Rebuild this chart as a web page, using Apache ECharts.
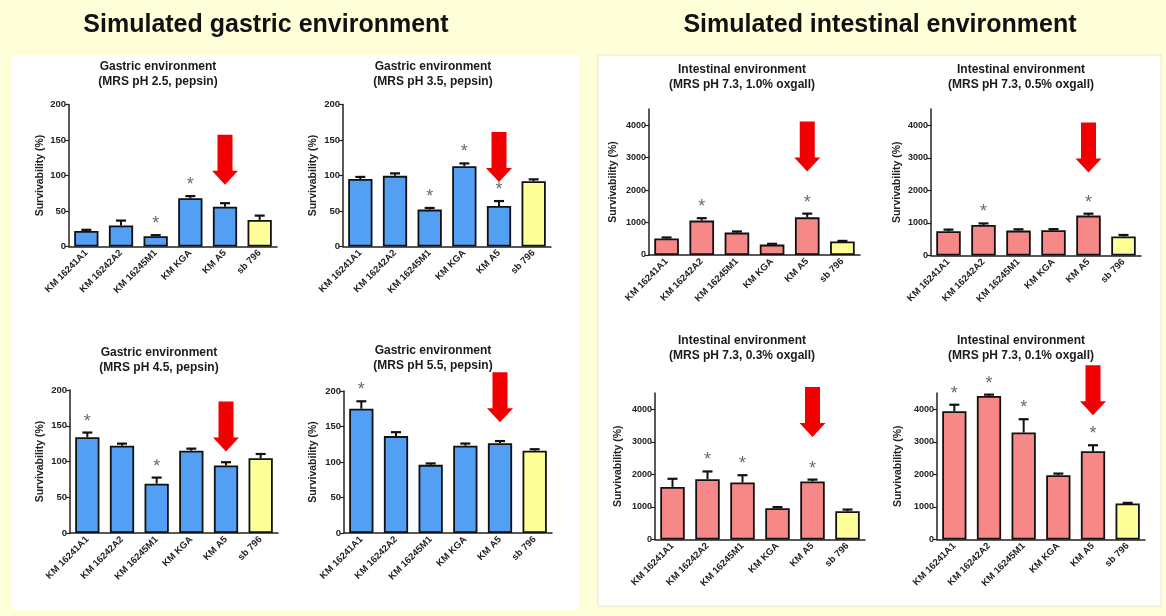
<!DOCTYPE html>
<html>
<head>
<meta charset="utf-8">
<script src="https://cdn.jsdelivr.net/npm/echarts@6/dist/echarts.min.js"></script>
<style>
html,body{margin:0;padding:0;background:#fefed9;}
#c{width:1166px;height:616px;}
</style>
</head>
<body>
<div id="c"></div>
<script>
// ---------- data ----------
const categories = ['KM 16241A1', 'KM 16242A2', 'KM 16245M1', 'KM KGA', 'KM A5', 'sb 796'];
const gastricTicks = [0, 50, 100, 150, 200];
const intestinalTicks = [0, 1000, 2000, 3000, 4000];

const pH25Mean = [22, 29.5, 14.5, 68, 56, 37.5];
const pH25Sem = [1.5, 7, 1.5, 3, 5, 6];
const pH25Stars = [2, 3];

const pH35Mean = [95, 99.5, 52, 113, 57, 92];
const pH35Sem = [3, 3.5, 2.3, 4, 7, 2.6];
const pH35Stars = [2, 3, 4];

const pH45Mean = [134, 122, 69, 115, 94.5, 104.5];
const pH45Sem = [6.5, 3, 8.5, 3, 4.5, 6];
const pH45Stars = [0, 2];

const pH55Mean = [175, 136.5, 96, 123, 126.5, 116];
const pH55Sem = [10.5, 5.5, 2, 3, 3, 2];
const pH55Stars = [0];

const oxgall10Mean = [510, 1060, 690, 320, 1160, 415];
const oxgall10Sem = [30, 75, 35, 25, 115, 20];
const oxgall10Stars = [1, 4];

const oxgall05Mean = [745, 940, 765, 775, 1225, 585];
const oxgall05Sem = [50, 45, 40, 35, 60, 45];
const oxgall05Stars = [1, 4];

const oxgall03Mean = [1615, 1850, 1750, 960, 1780, 870];
const oxgall03Sem = [250, 240, 225, 35, 60, 50];
const oxgall03Stars = [1, 2, 4];

const oxgall01Mean = [3940, 4410, 3285, 1975, 2710, 1105];
const oxgall01Sem = [200, 40, 410, 50, 185, 20];
const oxgall01Stars = [0, 1, 2, 4];

// arrow tip value (points at KM A5)
const arrowCategory = 4;
const arrowTips = [87, 91, 114, 156, 2570, 2550, 3150, 3816];

// ---------- layout ----------
const FONT = '"Liberation Sans", Arial, sans-serif';
const BLUE = '#539ff4', PINK = '#f78888', YELLOW = '#ffff99';

const panels = [
  {title: 'Gastric environment\n(MRS pH 2.5, pepsin)', mean: pH25Mean, sem: pH25Sem, stars: pH25Stars, kind: 'g',
   grid: {left: 69, top: 104.5, width: 208, height: 142}, tx: 158, ty: 74, gap: 23},
  {title: 'Gastric environment\n(MRS pH 3.5, pepsin)', mean: pH35Mean, sem: pH35Sem, stars: pH35Stars, kind: 'g',
   grid: {left: 343, top: 104.5, width: 208, height: 142}, tx: 433, ty: 74, gap: 24},
  {title: 'Gastric environment\n(MRS pH 4.5, pepsin)', mean: pH45Mean, sem: pH45Sem, stars: pH45Stars, kind: 'g',
   grid: {left: 70, top: 390, width: 208, height: 143}, tx: 159, ty: 360.5, gap: 24},
  {title: 'Gastric environment\n(MRS pH 5.5, pepsin)', mean: pH55Mean, sem: pH55Sem, stars: pH55Stars, kind: 'g',
   grid: {left: 344, top: 391, width: 208, height: 142}, tx: 433, ty: 358.5, gap: 25},
  {title: 'Intestinal environment\n(MRS pH 7.3, 1.0% oxgall)', mean: oxgall10Mean, sem: oxgall10Sem, stars: oxgall10Stars, kind: 'i',
   grid: {left: 649, top: 109, width: 211, height: 146}, tx: 742, ty: 77, gap: 30},
  {title: 'Intestinal environment\n(MRS pH 7.3, 0.5% oxgall)', mean: oxgall05Mean, sem: oxgall05Sem, stars: oxgall05Stars, kind: 'i',
   grid: {left: 931, top: 109, width: 210, height: 146.5}, tx: 1021, ty: 77, gap: 28},
  {title: 'Intestinal environment\n(MRS pH 7.3, 0.3% oxgall)', mean: oxgall03Mean, sem: oxgall03Sem, stars: oxgall03Stars, kind: 'i',
   grid: {left: 655, top: 393, width: 210, height: 146.5}, tx: 742, ty: 348, gap: 31},
  {title: 'Intestinal environment\n(MRS pH 7.3, 0.1% oxgall)', mean: oxgall01Mean, sem: oxgall01Sem, stars: oxgall01Stars, kind: 'i',
   grid: {left: 937, top: 393, width: 208, height: 146.5}, tx: 1021, ty: 348, gap: 33}
];

const ARROW = 'path://M5.5,0 L20.5,0 L20.5,36 L26,36 L13,50 L0,36 L5.5,36 Z';

const grids = [], xAxes = [], yAxes = [], series = [];
const graphics = [
  {type: 'rect', shape: {x: 12, y: 55, width: 567, height: 555}, style: {fill: '#ffffff'}, z: -10},
  {type: 'rect', shape: {x: 598, y: 55, width: 563, height: 551}, style: {fill: '#ffffff', stroke: '#e6e6d0', lineWidth: 1}, z: -10},
  {type: 'text', x: 266, y: 25, style: {text: 'Simulated gastric environment', font: 'bold 25px ' + FONT, fill: '#111',
    align: 'center', verticalAlign: 'middle', textAlign: 'center', textVerticalAlign: 'middle'}},
  {type: 'text', x: 880, y: 25, style: {text: 'Simulated intestinal environment', font: 'bold 25px ' + FONT, fill: '#111',
    align: 'center', verticalAlign: 'middle', textAlign: 'center', textVerticalAlign: 'middle'}}
];

panels.forEach((p, i) => {
  const isG = p.kind === 'g';
  grids.push(Object.assign({containLabel: false}, p.grid));
  graphics.push({type: 'text', x: p.tx, y: p.ty, style: {text: p.title, font: 'bold 12px ' + FONT, fill: '#1a1a1a',
    lineHeight: 15, align: 'center', verticalAlign: 'middle', textAlign: 'center', textVerticalAlign: 'middle'}});
  xAxes.push({
    type: 'category', gridIndex: i, data: categories,
    axisLine: {lineStyle: {color: '#222', width: 1.5}},
    axisTick: {alignWithLabel: true, length: 4, lineStyle: {color: '#222', width: 1.2}},
    axisLabel: {rotate: 45, interval: 0, margin: 5, fontSize: 9.5, fontWeight: 'bold', color: '#222', fontFamily: FONT}
  });
  const ticks = isG ? gastricTicks : intestinalTicks;
  yAxes.push({
    type: 'value', gridIndex: i, min: 0, max: isG ? 200 : 4500, interval: isG ? 50 : 1000,
    name: 'Survivability (%)', nameLocation: 'middle', nameGap: p.gap,
    nameTextStyle: {fontSize: 10.5, fontWeight: 'bold', color: '#222', fontFamily: FONT},
    axisLine: {show: true, lineStyle: {color: '#222', width: 1.5}},
    axisTick: {show: true, length: 4, customValues: ticks, lineStyle: {color: '#222', width: 1.2}},
    axisLabel: {customValues: ticks, margin: 3, fontSize: isG ? 9.5 : 9, fontWeight: 'bold', color: '#222', fontFamily: FONT,
      formatter: v => String(v)},
    splitLine: {show: false}
  });
  const base = isG ? BLUE : PINK;
  series.push({
    type: 'bar', xAxisIndex: i, yAxisIndex: i, barWidth: '70%', z: 2,
    data: p.mean.map((v, k) => ({value: v, itemStyle: {color: k === categories.length - 1 ? YELLOW : base}})),
    itemStyle: {borderColor: '#111', borderWidth: 1.8}, silent: true
  });
  series.push({
    type: 'custom', xAxisIndex: i, yAxisIndex: i, z: 3, clip: false, silent: true,
    data: p.mean.map((v, k) => [k, v, p.sem[k]]),
    renderItem: function (params, api) {
      const x = api.value(0), m = api.value(1), e = api.value(2);
      const p0 = api.coord([x, m]), p1 = api.coord([x, m + e]);
      return {type: 'group', children: [
        {type: 'line', shape: {x1: p0[0], y1: p0[1], x2: p1[0], y2: p1[1]}, style: {stroke: '#111', lineWidth: 2}},
        {type: 'line', shape: {x1: p1[0] - 5, y1: p1[1], x2: p1[0] + 5, y2: p1[1]}, style: {stroke: '#111', lineWidth: 2.2}}
      ]};
    }
  });
  series.push({
    type: 'scatter', xAxisIndex: i, yAxisIndex: i, z: 4, clip: false, silent: true,
    symbolSize: 1, itemStyle: {color: 'rgba(0,0,0,0)'},
    data: p.stars.map(k => [k, p.mean[k] + p.sem[k]]),
    label: {show: true, formatter: '*', position: 'inside', offset: [0, -11], fontSize: 18, color: '#444', fontFamily: FONT}
  });
  series.push({
    type: 'scatter', xAxisIndex: i, yAxisIndex: i, z: 5, clip: false, silent: true,
    symbol: ARROW, symbolSize: [26, 50], symbolOffset: [0, '-50%'],
    itemStyle: {color: '#f00000', opacity: 1},
    data: [[arrowCategory, arrowTips[i]]]
  });
});

const chart = echarts.init(document.getElementById('c'), null, {renderer: 'canvas'});
chart.setOption({
  backgroundColor: '#fefed9',
  animation: false,
  grid: grids, xAxis: xAxes, yAxis: yAxes, series: series, graphic: graphics
});
</script>
</body>
</html>
